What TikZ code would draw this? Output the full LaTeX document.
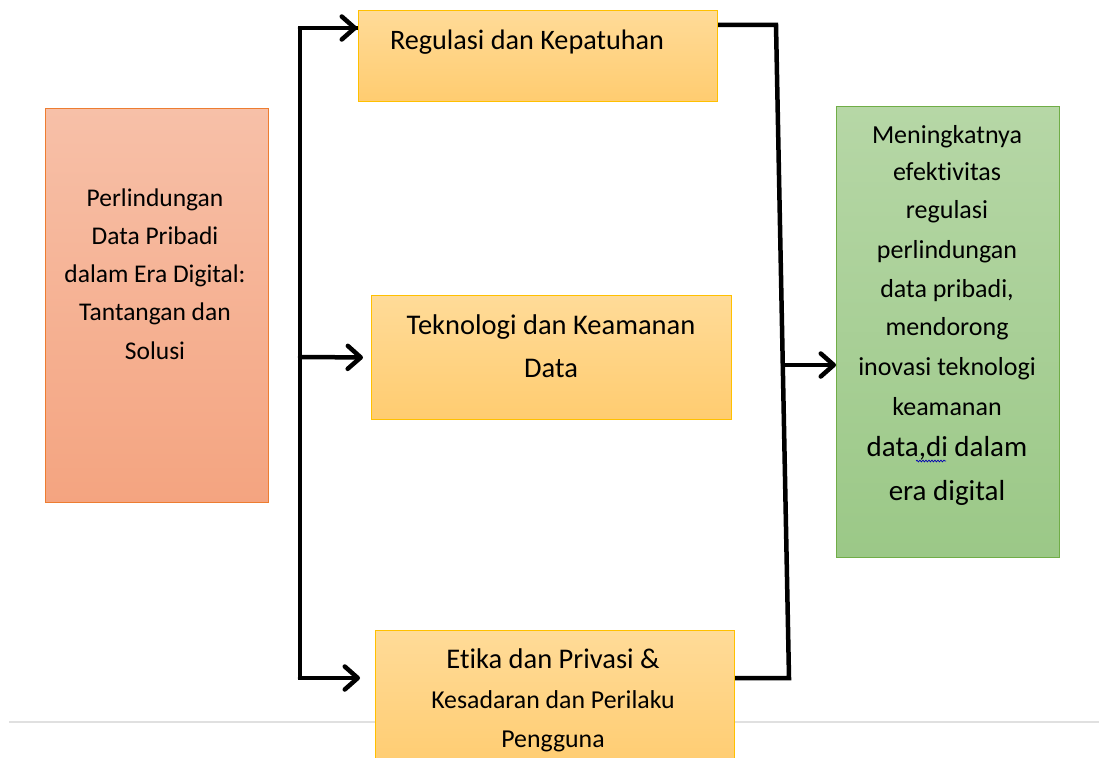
\documentclass[tikz,border=0pt]{standalone}
\usepackage{fontspec}
\setmainfont{Carlito}[Ligatures=NoCommon]
\usetikzlibrary{arrows.meta,decorations.pathmorphing}

\definecolor{srcTop}{RGB}{247,192,168}
\definecolor{srcBot}{RGB}{244,164,128}
\definecolor{srcLine}{RGB}{237,125,49}
\definecolor{midTop}{RGB}{255,219,152}
\definecolor{midBot}{RGB}{255,204,112}
\definecolor{midLine}{RGB}{255,192,0}
\definecolor{outTop}{RGB}{182,215,166}
\definecolor{outBot}{RGB}{155,200,135}
\definecolor{outLine}{RGB}{112,173,71}
\definecolor{rule}{RGB}{224,224,224}

\begin{document}
\begin{tikzpicture}[x=1pt,y=-1pt,
  box/.style={draw, line width=1pt, inner sep=0pt, anchor=north west},
  srcbox/.style={box, draw=srcLine, top color=srcTop, bottom color=srcBot},
  pillar/.style={box, draw=midLine, top color=midTop, bottom color=midBot},
  outbox/.style={box, draw=outLine, top color=outTop, bottom color=outBot},
  lbl/.style={anchor=base, inner sep=0pt, text=black},
  conn/.style={line width=4.5pt, line join=miter},
  arr/.style={line width=4.5pt, line cap=round,
    -{Straight Barb[length=13pt, width=23pt, line cap=round, line join=round]}},
  squiggle/.style={draw=blue!70!black, line width=0.7pt,
    decorate, decoration={snake, amplitude=0.9pt, segment length=3pt}}
]
\clip (0,0) rectangle (1099,757);
\fill[white] (0,0) rectangle (1099,757);

% thin separator rule
\draw[rule, line width=1.5pt] (9,722) -- (1099,722);

% boxes
\node[srcbox, minimum width=223pt, minimum height=394pt] (src) at (45,108) {};
\node[pillar, minimum width=359pt, minimum height=91pt] (top) at (358,10) {};
\node[pillar, minimum width=360pt, minimum height=124pt] (mid) at (371,295) {};
\node[pillar, minimum width=359pt, minimum height=140pt] (bot) at (375,630) {};
\node[outbox, minimum width=223pt, minimum height=451pt] (out) at (836,106) {};

% labels
\foreach \t [count=\i] in {Perlindungan, Data Pribadi, dalam Era Digital:, Tantangan dan, Solusi}
  \node[lbl, font=\fontsize{25.5}{30}\selectfont] (srcl\i) at (155,{206+38.3*(\i-1)}) {\t};

\node[lbl, font=\fontsize{28.2}{32}\selectfont] (topl) at (527,50) {Regulasi dan Kepatuhan};

\node[lbl, font=\fontsize{28.5}{32}\selectfont] (midl1) at (551,334) {Teknologi dan Keamanan};
\node[lbl, font=\fontsize{28.5}{32}\selectfont] (midl2) at (551,377) {Data};

\node[lbl, font=\fontsize{28.5}{32}\selectfont] (botl1) at (553,668) {Etika dan Privasi \&};
\node[lbl, font=\fontsize{25.8}{30}\selectfont] (botl2) at (553,708) {Kesadaran dan Perilaku};
\node[lbl, font=\fontsize{25.8}{30}\selectfont] (botl3) at (553,747) {Pengguna};

\foreach \t/\yy [count=\i] in {Meningkatnya/143, efektivitas/180, regulasi/218,
    perlindungan/258, {data pribadi,}/297, mendorong/335, inovasi teknologi/375,
    keamanan/415}
  \node[lbl, font=\fontsize{26}{30}\selectfont] (outl\i) at (947,\yy) {\t};
\node[lbl, font=\fontsize{29}{33}\selectfont] (outl9) at (947,456) {data,di dalam};
\node[lbl, font=\fontsize{29}{33}\selectfont] (outl10) at (947,500) {era digital};
\draw[squiggle] (916,461) -- (946,461);

% left distribution line
\coordinate (jt) at (300,28);
\coordinate (jm) at (300,357);
\coordinate (jb) at (300,678);
\draw[conn] (jt -| top.west) -- (jt) -- (jb) -- ++(10,0);
\draw[arr, shorten >=1pt] (jt) -- (jt -| top.west);
\draw[arr, shorten >=8pt] (jm) -- (mid.west);
\draw[arr, shorten >=15pt] (jb) -- (jb -| bot.west);

% right collecting line
\coordinate (rt) at (776,25);
\coordinate (rb) at (789,678);
\coordinate (ra) at (783,365);
\draw[conn] (top.east |- rt) -- (rt) -- (rb) -- (bot.east |- rb);
\draw[arr] (ra) -- (ra -| out.west);
\end{tikzpicture}
\end{document}
